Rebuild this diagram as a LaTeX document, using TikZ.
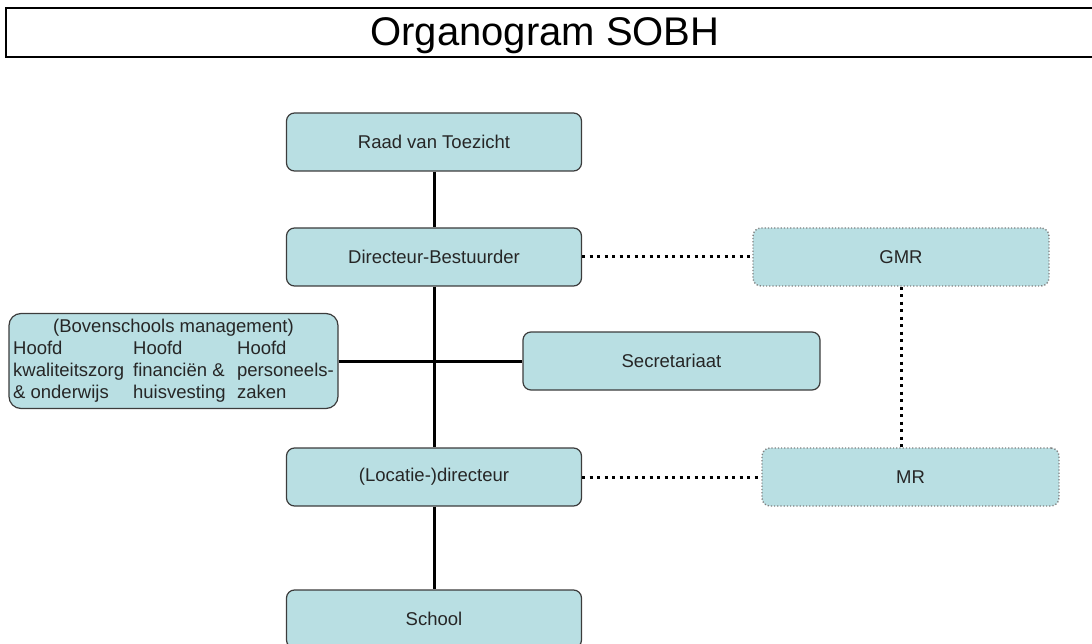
\documentclass[tikz,border=0pt]{standalone}
\usepackage{fontspec}
\setmainfont{Liberation Sans}
\definecolor{boxfill}{RGB}{185,223,227}
\definecolor{boxline}{RGB}{60,60,60}
\begin{document}
\begin{tikzpicture}[x=1pt,y=-1pt,
    orgbox/.style={draw=boxline,line width=1.2pt,fill=boxfill,rounded corners=8pt,
      minimum width=295pt,minimum height=58pt,font=\fontsize{18.5}{22}\selectfont,text=black!85},
    raadbox/.style={orgbox,draw=gray,dotted,line width=1.4pt},
    link/.style={line width=3pt},
    dotlink/.style={line width=3pt,dash pattern=on 3pt off 4.5pt}]
\useasboundingbox (0,0) rectangle (1092,644);
\clip (0,0) rectangle (1092,644);
\draw[line width=2pt] (6,8) rectangle (1110,57);
\node (title) at (545,36) {\fontsize{40}{44}\selectfont Organogram SOBH};
\node[orgbox] (raad) at (434,142) {Raad van Toezicht};
\node[orgbox] (dirbest) at (434,257) {Directeur-Bestuurder};
\node[orgbox,minimum width=329pt,minimum height=95pt,inner xsep=0pt,inner ysep=1pt,rounded corners=12pt] (bovensch) at (173.5,361)
  {\begin{tabular}{@{}p{120pt}@{}p{104pt}@{}l@{}}
     \multicolumn{3}{c}{(Bovenschools management)}\\
     Hoofd & Hoofd & Hoofd\\
     kwaliteitszorg & financiën \& & personeels-\\
     \& onderwijs & huisvesting & zaken
   \end{tabular}};
\node[orgbox,minimum width=297pt] (secr) at (671.5,361) {Secretariaat};
\node[orgbox] (locdir) at (434,477) {(Locatie-)directeur};
\node[orgbox] (school) at (434,619) {School};
\node[raadbox,minimum width=296pt] (gmr) at (901,257) {GMR};
\node[raadbox,minimum width=297pt] (mr) at (910.5,477) {MR};
\draw[link] (raad) -- (dirbest);
\draw[link] (dirbest) -- (locdir);
\draw[link] (locdir) -- (school);
\draw[link] (bovensch.east) -- (secr.west);
\draw[dotlink] (dirbest) -- (gmr);
\draw[dotlink] (locdir) -- (mr);
\draw[dotlink] (gmr.south) -- (gmr.south |- mr.north);
\end{tikzpicture}
\end{document}
